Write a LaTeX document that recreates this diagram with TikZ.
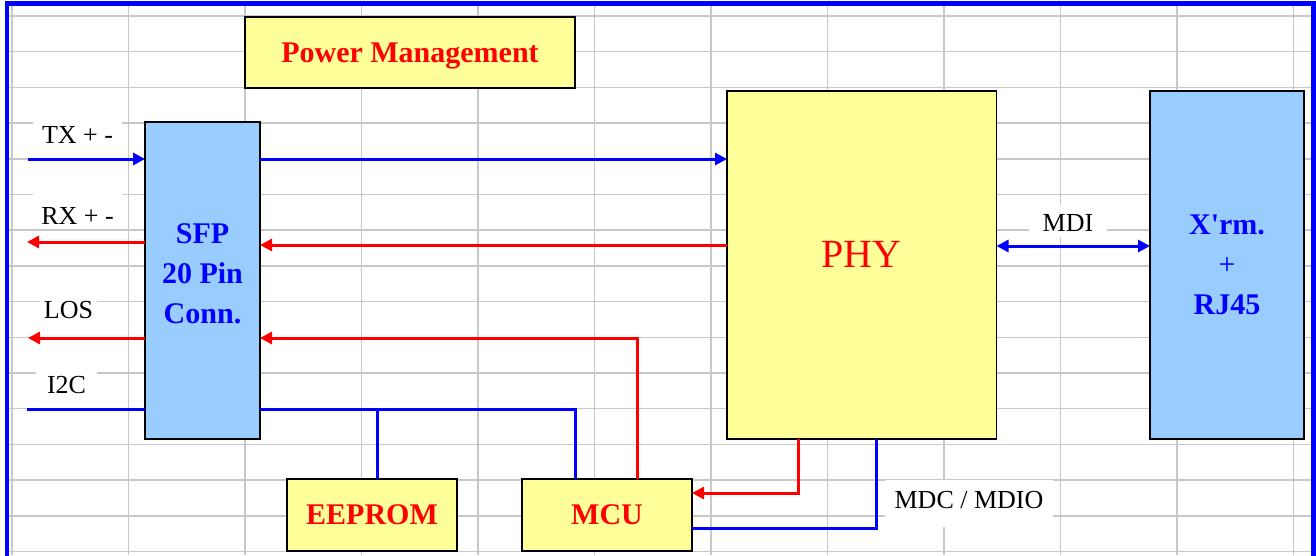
\documentclass[tikz,border=0pt]{standalone}
\usepackage{fontspec}
\setmainfont{Liberation Serif}
\newfontfamily\rawserif{Liberation Serif}
\usetikzlibrary{arrows.meta}
\definecolor{boxyellow}{HTML}{FFFF99}
\definecolor{boxblue}{HTML}{99CCFF}
\definecolor{gridgray}{HTML}{C8C8C8}
\tikzset{
  gridline/.style={draw=gridgray, line width=1.5pt},
  blk/.style={draw=black, line width=1.2pt, inner sep=0pt, outer sep=0pt, rectangle},
  ybox/.style={blk, fill=boxyellow},
  bbox/.style={blk, fill=boxblue},
  boldtxt/.style={font=\bfseries\fontsize{30}{40}\selectfont},
  onelinebox/.style={text height=19.9pt, text depth=0pt},
  lbl/.style={fill=white, inner sep=0pt, outer sep=0pt, font=\fontsize{26}{30}\selectfont, text height=17pt, text depth=0pt},
  bl/.style={draw=blue, line width=3pt},
  rd/.style={draw=red, line width=3pt},
}
\begin{document}
\begin{tikzpicture}[x=1pt, y=-1pt, >={Triangle[length=12pt,width=12pt]}]
\useasboundingbox (0,0) rectangle (1316,555);
% spreadsheet grid
\foreach \i in {0,...,11} \draw[gridline] ({12+116.5*\i},5) -- ({12+116.5*\i},555);
\foreach \j in {0,...,15} \draw[gridline] (7,{16+35.7*\j}) -- (1313,{16+35.7*\j});
% frame
\draw[blue, line width=4.5pt] (6.8,560) -- (6.8,3.7) -- (1313.5,3.7) -- (1313.5,560);

% boxes
\node[ybox, boldtxt, onelinebox, text=red, minimum width=330pt, minimum height=71pt] (pm) at (410,52.5) {Power Management};
\node[bbox, boldtxt, text=blue, align=center, minimum width=115pt, minimum height=317pt] (sfp) at (202.5,280.5) {SFP\\20 Pin\\Conn.\rule[-13pt]{0pt}{13pt}};
\node[ybox, text=red, font=\fontsize{40}{48}\selectfont, text height=26.5pt, text depth=22pt, minimum width=269.5pt, minimum height=348pt] (phy) at (861.75,265) {PHY};
\node[bbox, boldtxt, text=blue, align=center, minimum width=154pt, minimum height=348pt] (xfmr) at (1227,265) {{\rawserif\bfseries X'rm.}\\{\mdseries +}\\RJ45};
\node[ybox, boldtxt, onelinebox, text=red, minimum width=170pt, minimum height=72pt] (eeprom) at (372,515) {EEPROM};
\node[ybox, boldtxt, onelinebox, text=red, minimum width=170pt, minimum height=72pt] (mcu) at (607,515) {MCU};

% labels
\node[lbl, text depth=3pt, minimum width=89pt, minimum height=37pt] (ltx) at (77.5,136.5) {TX + -};
\node[lbl, text height=26pt, minimum width=89pt, minimum height=36pt] (lrx) at (77.5,211) {RX + -};
\node[lbl, text depth=8pt, minimum width=57pt, minimum height=36pt] (llos) at (68.5,314) {LOS};
\node[lbl, minimum width=61pt, minimum height=35pt] (li2c) at (66.5,384.5) {I2C};
\node[lbl, text height=21pt, minimum width=78pt, minimum height=32pt] (lmdi) at (1068,221) {MDI};
\node[lbl, text depth=7pt, minimum width=168pt, minimum height=47pt] (lmdc) at (969,503.5) {MDC / MDIO};

% free ends and bends
\coordinate (txin) at (28,159);
\coordinate (rxout) at (27,242);
\coordinate (rxy) at (500,245);
\coordinate (losout) at (28,338);
\coordinate (mcux) at (637.5,338);
\coordinate (i2cin) at (27,409);
\coordinate (busR) at (575,409);
\coordinate (busJ) at (377,409);
\coordinate (mdr) at (798,493);
\coordinate (mdb) at (876,528);
\coordinate (mdiy) at (1070,246);

% connectors
\draw[bl,->] (txin) -- (txin -| sfp.west);
\draw[bl,->] (sfp.east |- txin) -- (phy.west |- txin);
\draw[rd,->] (phy.west |- rxy) -- (sfp.east |- rxy);
\draw[rd,->] (sfp.west |- rxout) -- (rxout);
\draw[rd,->] (sfp.west |- losout) -- (losout);
\draw[rd,->] (mcux |- mcu.north) -- (mcux) -- (mcux -| sfp.east);
\draw[bl] (i2cin) -- (i2cin -| sfp.west);
\draw[bl] (busR -| sfp.east) -- (busR) -- (busR |- mcu.north);
\draw[bl] (busJ) -- (busJ |- eeprom.north);
\draw[rd,->] (mdr |- phy.south) -- (mdr) -- (mdr -| mcu.east);
\draw[bl] (mdb |- phy.south) -- (mdb) -- (mdb -| mcu.east);
\draw[bl,<->] (phy.east |- mdiy) -- (xfmr.west |- mdiy);
\end{tikzpicture}
\end{document}
